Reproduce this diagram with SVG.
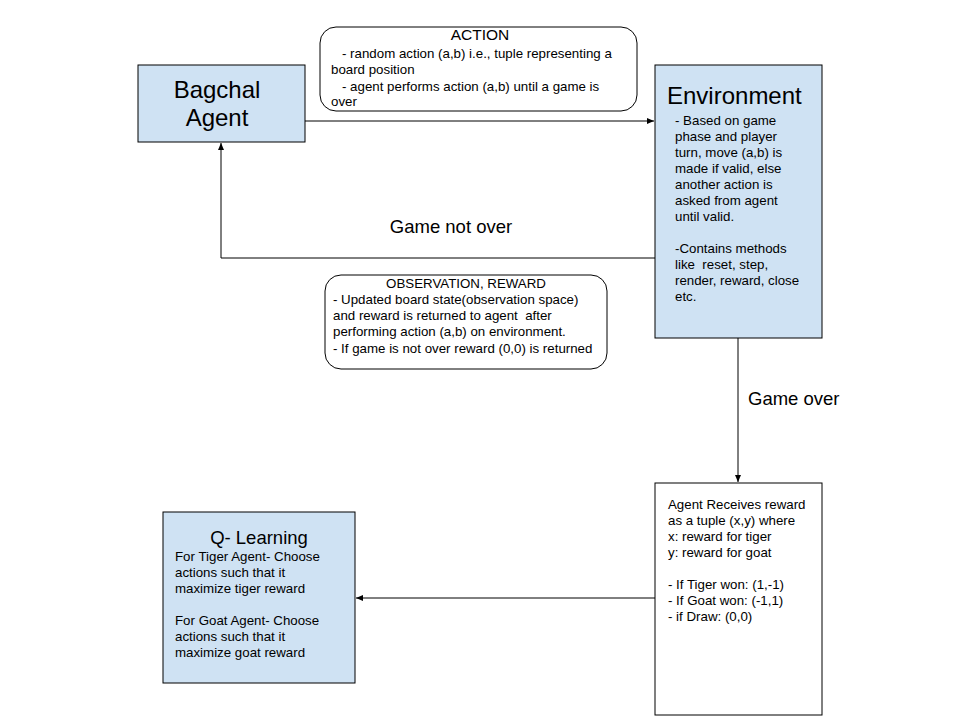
<svg xmlns="http://www.w3.org/2000/svg" width="960" height="720" viewBox="0 0 960 720">
<defs>
<style>
.node{fill:#cfe2f3;stroke:#000;stroke-width:1}
.plain{fill:#fff;stroke:#000;stroke-width:1}
.t{font-family:"Liberation Sans",Arial,sans-serif;fill:#000}
.b{font-size:13.3px}
.c{stroke:#000;stroke-width:1;fill:none}
</style>
<marker id="ah" markerWidth="8" markerHeight="8" refX="7" refY="4" orient="auto" markerUnits="userSpaceOnUse">
<path d="M0,1 L7,4 L0,7 Z" fill="#000"/>
</marker>
</defs>
<rect width="960" height="720" fill="#fff"/>
<g id="connectors">
<path class="c" d="M305,121 H654" marker-end="url(#ah)"/>
<path class="c" d="M655,258 H221 V143" marker-end="url(#ah)"/>
<path class="c" d="M738,338 V482" marker-end="url(#ah)"/>
<path class="c" d="M655,598 H356" marker-end="url(#ah)"/>
<text class="t" x="451" y="233" font-size="18.5" text-anchor="middle">Game not over</text>
<text class="t" x="748" y="405" font-size="18.5">Game over</text>
</g>
<g id="agent">
<rect class="node" x="138" y="65" width="167" height="77"/>
<text class="t" x="217" y="98" font-size="24" text-anchor="middle">Bagchal</text>
<text class="t" x="217" y="126" font-size="24" text-anchor="middle">Agent</text>
</g>
<g id="action">
<rect class="plain" x="320" y="27" width="317" height="84" rx="16"/>
<text class="t" x="480" y="40" font-size="15.5" text-anchor="middle">ACTION</text>
<text class="t b" x="342" y="58">- random action (a,b) i.e., tuple representing a</text>
<text class="t b" x="331" y="74">board position</text>
<text class="t b" x="342" y="91">- agent performs action (a,b) until a game is</text>
<text class="t b" x="331" y="106">over</text>
</g>
<g id="environment">
<rect class="node" x="655" y="65" width="167" height="273"/>
<text class="t" x="667" y="104" font-size="24">Environment</text>
<text class="t b" x="675" y="125">- Based on game</text>
<text class="t b" x="675" y="141">phase and player</text>
<text class="t b" x="675" y="157">turn, move (a,b) is</text>
<text class="t b" x="675" y="173">made if valid, else</text>
<text class="t b" x="675" y="189">another action is</text>
<text class="t b" x="675" y="205">asked from agent</text>
<text class="t b" x="675" y="221">until valid.</text>
<text class="t b" x="675" y="253">-Contains methods</text>
<text class="t b" x="675" y="269" xml:space="preserve">like  reset, step,</text>
<text class="t b" x="675" y="285">render, reward, close</text>
<text class="t b" x="675" y="301">etc.</text>
</g>
<g id="observation">
<rect class="plain" x="325" y="275" width="282" height="94" rx="16"/>
<text class="t b" x="466" y="288" text-anchor="middle">OBSERVATION, REWARD</text>
<text class="t b" x="333" y="304">- Updated board state(observation space)</text>
<text class="t b" x="333" y="320" xml:space="preserve">and reward is returned to agent  after</text>
<text class="t b" x="333" y="336">performing action (a,b) on environment.</text>
<text class="t b" x="333" y="353">- If game is not over reward (0,0) is returned</text>
</g>
<g id="result">
<rect class="plain" x="655" y="483" width="167" height="232"/>
<text class="t b" x="668" y="509">Agent Receives reward</text>
<text class="t b" x="668" y="525">as a tuple (x,y) where</text>
<text class="t b" x="668" y="541">x: reward for tiger</text>
<text class="t b" x="668" y="557">y: reward for goat</text>
<text class="t b" x="668" y="589">- If Tiger won: (1,-1)</text>
<text class="t b" x="668" y="605">- If Goat won: (-1,1)</text>
<text class="t b" x="668" y="621">- if Draw: (0,0)</text>
</g>
<g id="qlearning">
<rect class="node" x="163" y="512" width="192" height="171"/>
<text class="t" x="259" y="544" font-size="18.5" text-anchor="middle">Q- Learning</text>
<text class="t b" x="175" y="561">For Tiger Agent- Choose</text>
<text class="t b" x="175" y="577">actions such that it</text>
<text class="t b" x="175" y="593">maximize tiger reward</text>
<text class="t b" x="175" y="625">For Goat Agent- Choose</text>
<text class="t b" x="175" y="641">actions such that it</text>
<text class="t b" x="175" y="657">maximize goat reward</text>
</g>
</svg>
